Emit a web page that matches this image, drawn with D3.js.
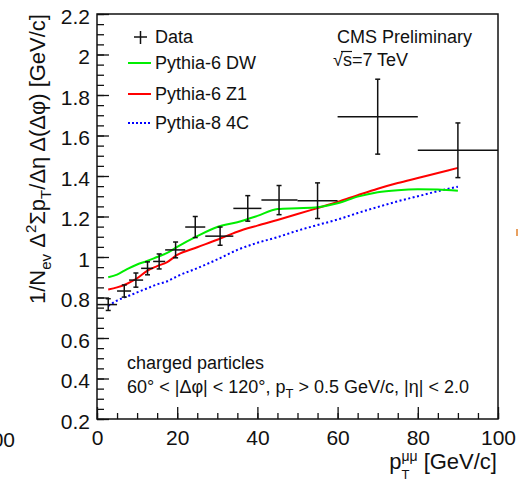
<!DOCTYPE html>
<html>
<head>
<meta charset="utf-8">
<script src="https://cdn.jsdelivr.net/npm/d3@7"></script>
<style>
  body { margin: 0; background: #fff; }
  text { font-family: "Liberation Sans", Arial, sans-serif; fill: #111; }
</style>
</head>
<body>
<div id="chart"></div>
<script>
// data points (mean pT, bin edges, value, stat error)
var ptMean = [2.8, 6.8, 9.7, 12.6, 15.5, 19.6, 24.5, 30.7, 37.6, 45.4, 55.0, 70, 90];
var ptLow  = [0, 5, 8, 11, 14, 17, 22, 27, 34, 41, 50, 60, 80];
var ptHigh = [5, 8.5, 11.5, 14, 17, 22, 27, 34, 41, 50, 60, 80, 100];
var dataVal = [0.765, 0.832, 0.886, 0.944, 0.978, 1.035, 1.148, 1.103, 1.240, 1.281, 1.278, 1.693, 1.527];
var dataErr = [0.029, 0.030, 0.035, 0.032, 0.037, 0.039, 0.052, 0.045, 0.063, 0.072, 0.088, 0.185, 0.135];

// MC curves
var mcPt = [2.8, 5, 7.5, 10, 12.5, 15, 17.5, 20, 25, 30, 35, 40, 45, 50, 55, 60, 65, 70, 75, 80, 85, 90];
var dwVal = [0.900, 0.913, 0.940, 0.963, 0.980, 1.000, 1.020, 1.050, 1.103, 1.148, 1.172, 1.203, 1.237, 1.241, 1.246,
             1.265, 1.298, 1.320, 1.330, 1.334, 1.333, 1.327];
var z1Val = [0.840, 0.850, 0.868, 0.895, 0.932, 0.955, 0.975, 1.010, 1.048, 1.085, 1.125, 1.155, 1.183, 1.212, 1.242,
             1.272, 1.305, 1.337, 1.365, 1.390, 1.415, 1.440];
var c4Val = [0.758, 0.785, 0.805, 0.825, 0.845, 0.865, 0.880, 0.905, 0.945, 0.988, 1.035, 1.070, 1.098, 1.130, 1.158,
             1.185, 1.217, 1.247, 1.275, 1.300, 1.325, 1.347];

var yTicks = [0.2, 0.4, 0.6, 0.8, 1, 1.2, 1.4, 1.6, 1.8, 2, 2.2];
var xTicks = [0, 20, 40, 60, 80, 100];

var margin = {top: 14, right: 28, bottom: 63, left: 97},
    width = 526 - margin.left - margin.right,
    height = 482 - margin.top - margin.bottom;

var svgRoot = d3.select("#chart")
  .append("svg")
    .attr("width", 526)
    .attr("height", 482);

var svg = svgRoot.append("g")
    .attr("transform", "translate(" + margin.left + "," + margin.top + ")");

var x = d3.scaleLinear().domain([0, 100]).range([0, width]);
var y = d3.scaleLinear().domain([0.2, 2.2]).range([height, 0]);

// minor ticks
svg.append("g")
  .attr("transform", "translate(0," + height + ")")
  .call(d3.axisBottom(x).tickValues(d3.range(0, 101, 5)).tickSizeInner(-6).tickSizeOuter(0).tickFormat(""))
  .call(function(g) { g.select(".domain").remove(); });
svg.append("g")
  .call(d3.axisLeft(y).tickValues(d3.range(0.2, 2.201, 0.05)).tickSizeInner(-7).tickSizeOuter(0).tickFormat(""))
  .call(function(g) { g.select(".domain").remove(); });

// major ticks + labels
var xAxis = svg.append("g")
  .attr("transform", "translate(0," + height + ")")
  .call(d3.axisBottom(x).tickValues(xTicks).tickSizeInner(-12).tickSizeOuter(0).tickPadding(11).tickFormat(d3.format("d")));
var yAxis = svg.append("g")
  .call(d3.axisLeft(y).tickValues(yTicks).tickSizeInner(-12).tickSizeOuter(0).tickPadding(7).tickFormat(function(d) { return d3.format("")(+d.toFixed(1)); }));

svg.selectAll(".tick line").attr("stroke", "#111").attr("stroke-width", 1.3);
svg.selectAll(".tick text").style("font-size", "21px").attr("fill", "#111")
  .style("font-family", "'Liberation Sans', Arial, sans-serif");
yAxis.selectAll(".tick text").attr("dy", "0.45em");
svg.selectAll(".domain").remove();

// frame
svg.append("rect")
  .attr("width", width).attr("height", height)
  .attr("fill", "none").attr("stroke", "#111").attr("stroke-width", 1.5);

// MC lines
var line = function(vals) {
  return d3.line()
    .x(function(d, i) { return x(mcPt[i]); })
    .y(function(d) { return y(d); })
    .curve(d3.curveMonotoneX)(vals);
};
svg.append("path").attr("d", line(c4Val)).attr("fill", "none")
  .attr("stroke", "#0000ff").attr("stroke-width", 2).attr("stroke-dasharray", "2,2.5");
svg.append("path").attr("d", line(z1Val)).attr("fill", "none")
  .attr("stroke", "#ff0000").attr("stroke-width", 2);
svg.append("path").attr("d", line(dwVal)).attr("fill", "none")
  .attr("stroke", "#00ee00").attr("stroke-width", 2);

// data with error bars
var pts = ptMean.map(function(d, i) {
  return {x: d, lo: ptLow[i], hi: ptHigh[i], v: dataVal[i], e: dataErr[i]};
});
var g = svg.selectAll(".pt").data(pts).enter().append("g")
  .attr("stroke", "#111").attr("stroke-width", 1.5);
g.append("line")
  .attr("x1", function(d) { return x(d.lo); }).attr("x2", function(d) { return x(d.hi); })
  .attr("y1", function(d) { return y(d.v); }).attr("y2", function(d) { return y(d.v); });
g.append("line")
  .attr("x1", function(d) { return x(d.x); }).attr("x2", function(d) { return x(d.x); })
  .attr("y1", function(d) { return y(d.v - d.e); }).attr("y2", function(d) { return y(d.v + d.e); });
[-1, 1].forEach(function(s) {
  g.append("line")
    .attr("x1", function(d) { return x(d.x) - 2.5; }).attr("x2", function(d) { return x(d.x) + 2.5; })
    .attr("y1", function(d) { return y(d.v + s * d.e); }).attr("y2", function(d) { return y(d.v + s * d.e); });
});

// legend
var leg = svgRoot.append("g");
leg.append("line").attr("x1", 134).attr("x2", 147).attr("y1", 37).attr("y2", 37).attr("stroke", "#111").attr("stroke-width", 1.5);
leg.append("line").attr("x1", 140.5).attr("x2", 140.5).attr("y1", 31).attr("y2", 44).attr("stroke", "#111").attr("stroke-width", 1.5);
leg.append("line").attr("x1", 128).attr("x2", 151).attr("y1", 63).attr("y2", 63).attr("stroke", "#00ee00").attr("stroke-width", 2);
leg.append("line").attr("x1", 128).attr("x2", 151).attr("y1", 94).attr("y2", 94).attr("stroke", "#ff0000").attr("stroke-width", 2);
leg.append("line").attr("x1", 128).attr("x2", 151).attr("y1", 123).attr("y2", 123).attr("stroke", "#0000ff")
  .attr("stroke-width", 2).attr("stroke-dasharray", "2,2");
var legNames = ["Data", "Pythia-6 DW", "Pythia-6 Z1", "Pythia-8 4C"];
var legY = [43, 69, 100, 129];
legNames.forEach(function(n, i) {
  leg.append("text").attr("x", 155).attr("y", legY[i]).style("font-size", "18px").text(n);
});

// CMS labels
svgRoot.append("text").attr("x", 337).attr("y", 43).style("font-size", "18px").text("CMS Preliminary");
var rs = svgRoot.append("text").attr("x", 333).attr("y", 66).style("font-size", "18px");
rs.append("tspan").text("√s=7 TeV");
// bar over the s of the square root
svgRoot.append("line").attr("x1", 341).attr("x2", 352).attr("y1", 51.5).attr("y2", 51.5)
  .attr("stroke", "#111").attr("stroke-width", 1.2);

// selection text
svgRoot.append("text").attr("x", 127).attr("y", 369).style("font-size", "18px").text("charged particles");
var sel = svgRoot.append("text").attr("x", 127).attr("y", 393).style("font-size", "18px");
sel.append("tspan").text("60° < |Δφ| < 120°, p");
sel.append("tspan").text("T").attr("dy", 5).style("font-size", "13px");
sel.append("tspan").text(" > 0.5 GeV/c, |η| < 2.0").attr("dy", -5);

// axis titles
var xt = svgRoot.append("text").attr("x", 497).attr("y", 469).attr("text-anchor", "end").style("font-size", "22px");
xt.append("tspan").text("p");
xt.append("tspan").text("T").attr("dy", 10).style("font-size", "13px");
xt.append("tspan").text("μμ").attr("dx", -8).attr("dy", -18).style("font-size", "14px");
xt.append("tspan").text(" [GeV/c]").attr("dy", 8);

var yt = svgRoot.append("text").attr("transform", "translate(45,14) rotate(-90)")
  .attr("text-anchor", "end").style("font-size", "22px");
yt.append("tspan").text("1/N");
yt.append("tspan").text("ev").attr("dy", 6).style("font-size", "15px");
yt.append("tspan").text(" Δ").attr("dy", -6);
yt.append("tspan").text("2").attr("dy", -9).style("font-size", "15px");
yt.append("tspan").text("Σp").attr("dy", 9);
yt.append("tspan").text("T").attr("dy", 6).style("font-size", "15px");
yt.append("tspan").text("/Δη Δ(Δφ) [GeV/c]").attr("dy", -6);

// fragments of neighbouring panels
svgRoot.append("text").attr("x", 15).attr("y", 447).attr("text-anchor", "end").style("font-size", "21px").text("100");
svgRoot.append("rect").attr("x", 516).attr("y", 229).attr("width", 2).attr("height", 7).attr("fill", "#e8a060");
</script>
</body>
</html>
